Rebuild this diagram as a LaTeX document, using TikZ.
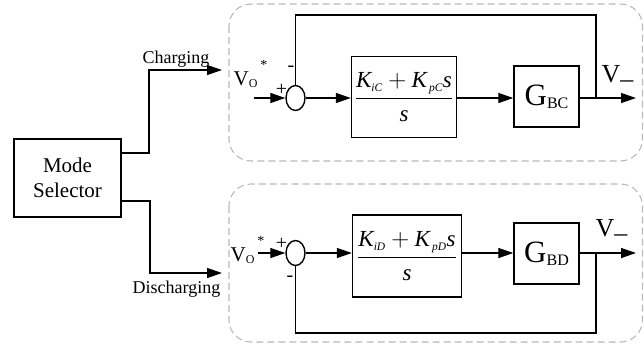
\documentclass[tikz,border=0pt]{standalone}
\usepackage{fontspec}
\usepackage{amsmath}
\setmainfont{Liberation Serif}
\usetikzlibrary{arrows.meta,shapes.geometric,positioning}

\begin{document}
\begin{tikzpicture}[
  x=1pt, y=-1pt,
  line width=1.3pt,
  blk/.style={draw, line width=1.4pt, inner sep=0pt, align=center},
  sumnode/.style={draw, ellipse, line width=1.4pt, minimum width=19pt, minimum height=25pt, inner sep=0pt},
  grp/.style={draw=gray!55, dash pattern=on 7pt off 4pt, line width=1.1pt, rounded corners=22pt},
  arr/.style={-{Triangle[length=15pt,width=10pt]}},
  lbl/.style={inner sep=0pt, font=\fontsize{18}{20}\selectfont},
  sgn/.style={inner sep=0pt, font=\fontsize{20}{20}\selectfont},
  frac/.style={font=\fontsize{23}{25}\selectfont}
]
\useasboundingbox (0,0) rectangle (644,349);
\draw[grp] (229,4) rectangle (642.5,161);
\draw[grp] (229,184) rectangle (642.5,342);

\node[blk, minimum width=107pt, minimum height=78pt, font=\fontsize{21}{25}\selectfont] (mode) at (67.5,178) {Mode\\Selector};
\node[lbl, anchor=base] (chglbl) at (176,63) {Charging};
\node[lbl, anchor=base] (dchglbl) at (176.5,293) {Discharging};
\coordinate (chg) at (222,70);
\coordinate (dchg) at (222,273);

% charging loop
\node[sumnode] (sum1) at (295.5,98) {};
\node[blk, minimum width=105pt, minimum height=81pt, frac] (pi1) at (404,97)
  {$\dfrac{\textit{K}_{\scriptscriptstyle\textit{iC}}+\textit{K}_{\scriptscriptstyle\,\textit{pC}}\textit{s}}{\textit{s}}$};
\node[blk, minimum width=65pt, minimum height=61pt, font=\fontsize{31}{31}\selectfont] (g1) at (546.5,96.5)
  {G{\fontsize{16}{16}\selectfont\raisebox{-3pt}{BC}}};
\coordinate (in1) at (254,98);
\coordinate (b1) at (596,98);
\coordinate (out1) at (636,98);
\node[anchor=base west, inner sep=0pt, font=\fontsize{21}{21}\selectfont] (ref1) at (233,85)
  {V{\fontsize{12}{12}\selectfont\raisebox{-2pt}{O}\hspace{3pt}\raisebox{16pt}{\fontsize{14}{14}\selectfont*}}};
\node[sgn] (plus1) at (281.5,90) {+};
\node[sgn] (minus1) at (291,69) {-};
\node[anchor=base west, inner sep=0pt, font=\fontsize{26}{26}\selectfont] (v1) at (601,82) {V\raisebox{-5pt}{–}};

% discharging loop
\node[sumnode] (sum2) at (295.5,253) {};
\node[blk, minimum width=109pt, minimum height=82pt, frac] (pi2) at (407,256)
  {$\dfrac{\textit{K}_{\scriptscriptstyle\textit{iD}}+\textit{K}_{\scriptscriptstyle\,\textit{pD}}\textit{s}}{\textit{s}}$};
\node[blk, minimum width=65pt, minimum height=61pt, font=\fontsize{31}{31}\selectfont] (g2) at (546.5,253.5)
  {G{\fontsize{16}{16}\selectfont\raisebox{-3pt}{BD}}};
\coordinate (in2) at (258,253);
\coordinate (b2) at (596,253);
\coordinate (out2) at (636,253);
\node[anchor=base west, inner sep=0pt, font=\fontsize{21}{21}\selectfont] (ref2) at (230,261)
  {V{\fontsize{12}{12}\selectfont\raisebox{-2pt}{O}\hspace{3pt}\raisebox{16pt}{\fontsize{14}{14}\selectfont*}}};
\node[sgn] (plus2) at (281.5,244) {+};
\node[sgn] (minus2) at (290,279) {-};
\node[anchor=base west, inner sep=0pt, font=\fontsize{26}{26}\selectfont] (v2) at (595,236) {V\raisebox{-5pt}{–}};

\draw[arr] ([yshift=25pt]mode.east) -| (149,70) -- (chg);
\draw[arr] ([yshift=-23pt]mode.east) -| (150,273) -- (dchg);

\draw[arr] (in1) -- (sum1.west);
\draw[arr] (sum1.east) -- (sum1.east -| pi1.west);
\draw[arr] (pi1.east |- sum1) -- (g1.west |- sum1);
\draw[arr] (g1.east |- b1) -- (out1);
\draw (b1) |- (sum1.north |- 0,15) -- (sum1.north);

\draw[arr] (in2) -- (sum2.west);
\draw[arr] (sum2.east) -- (sum2.east -| pi2.west);
\draw[arr] (pi2.east |- sum2) -- (g2.west |- sum2);
\draw[arr] (g2.east |- b2) -- (out2);
\draw (b2) |- (sum2.south |- 0,333) -- (sum2.south);
\end{tikzpicture}
\end{document}
